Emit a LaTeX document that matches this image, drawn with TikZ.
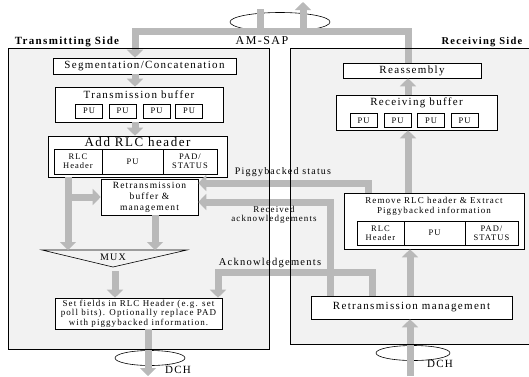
\documentclass[tikz,border=0pt]{standalone}
\usepackage{fontspec}
\setmainfont{Liberation Serif}[LetterSpace=12]
\usetikzlibrary{arrows.meta}
\tikzset{
    rlcbox/.style={draw, fill=white, line width=0.6pt, inner sep=0pt, align=center},
    pubox/.style={rlcbox, minimum width=27pt, minimum height=14pt, font=\fontsize{8.5}{9}\selectfont},
    cellbox/.style={rlcbox, minimum height=25pt, font=\fontsize{8.5}{9}\selectfont},
    bigarrow/.style={draw=gray!55, line width=7pt, -{Triangle[length=8pt,width=16pt]}},
    band/.style={draw=gray!55, line width=7pt},
    sidelabel/.style={font=\bfseries\fontsize{11}{12}\selectfont},
    midlabel/.style={font=\fontsize{10}{11}\selectfont, align=center}
}

\begin{document}
\begin{tikzpicture}[x=1pt, y=-1pt, font=\fontsize{11}{12}\selectfont]
    \useasboundingbox (0,0) rectangle (529,376);
    \fill[gray!10] (8,48) rectangle (269,349);
    \fill[gray!10] (290,48) rectangle (529,344);

    \node[rlcbox, minimum width=183pt, minimum height=16pt] (seg) at (144.5,66) {Segmentation/Concatenation};
    \node[rlcbox, minimum width=168pt, minimum height=35pt] (txbuf) at (139,104.5) {};
    \node (txtitle) at (139,95) {Transmission buffer};
    \foreach \x [count=\i] in {89,122.5,156.5,189}
        \node[pubox] (txpu\i) at (\x,111) {PU};
    \node[rlcbox, minimum width=179pt, minimum height=41pt] (addrlc) at (137.5,156.5) {};
    \node[font=\fontsize{13}{14}\selectfont] (addtitle) at (137.5,142.5) {Add RLC header};
    \node[cellbox, minimum width=48pt] (txhdr) at (78,161.5) {RLC\\Header};
    \node[cellbox, minimum width=61pt] (txpu) at (132.5,161.5) {PU};
    \node[cellbox, minimum width=54pt] (txpad) at (190,161.5) {PAD/\\STATUS};
    \node[rlcbox, minimum width=97pt, minimum height=36pt, font=\fontsize{9.5}{11}\selectfont] (rtx) at (149.5,197) {Retransmission\\buffer \&\\management};
    \node[rlcbox, minimum width=167pt, minimum height=31pt, font=\fontsize{9}{9.5}\selectfont] (setf) at (138.5,313.5) {Set fields in RLC Header (e.g. set\\poll bits). Optionally replace PAD\\with piggybacked information.};

    \node[rlcbox, minimum width=138pt, minimum height=15pt] (reass) at (412,70.5) {Reassembly};
    \node[rlcbox, minimum width=161pt, minimum height=35pt] (rxbuf) at (416.5,112.5) {};
    \node (rxtitle) at (416.5,103) {Receiving buffer};
    \foreach \x [count=\i] in {363.5,397.5,431,464.5}
        \node[pubox] (rxpu\i) at (\x,120.5) {PU};
    \node[rlcbox, minimum width=180pt, minimum height=56pt] (rmv) at (434,221) {};
    \node[font=\fontsize{9}{10}\selectfont, align=center] (rmvtitle) at (434,206.5) {Remove RLC header \& Extract\\Piggybacked information};
    \node[cellbox, minimum width=47pt, minimum height=24pt] (rxhdr) at (380.5,233) {RLC\\Header};
    \node[cellbox, minimum width=61pt, minimum height=24pt] (rxpu) at (434.5,233) {PU};
    \node[cellbox, minimum width=53pt, minimum height=24pt] (rxpad) at (491.5,233) {PAD/\\STATUS};
    \node[rlcbox, minimum width=201pt, minimum height=23pt] (rmgmt) at (411.5,307.5) {Retransmission management};

    \draw[line width=0.6pt] (42,250) -- (187,250) -- (113,267) -- cycle;
    \node[font=\fontsize{10}{11}\selectfont] (mux) at (113,257) {MUX};

    \coordinate (sapin) at (260,9);
    \coordinate (sapout) at (303,2);
    \coordinate (band) at (135,31);
    \coordinate (colr) at (408,31);
    \coordinate (muxa) at (68,250);
    \coordinate (muxb) at (155,250);
    \coordinate (muxo) at (115,271);
    \coordinate (dchtx) at (148,376);
    \coordinate (dchrx) at (410,376);
    \coordinate (pig) at (368,183);
    \coordinate (rack) at (330,202);
    \coordinate (ack) at (372,272);
    \coordinate (ackl) at (218,272);

    \draw[line width=0.6pt] (280,22) ellipse [x radius=50, y radius=9.5];
    \draw[line width=0.6pt] (150,358) ellipse [x radius=35, y radius=7.5];
    \draw[line width=0.6pt] (413,353) ellipse [x radius=37, y radius=7.5];

    \draw[bigarrow] (sapin) |- (band) -- (seg.north -| band);
    \draw[band] (sapin |- band) -- (sapout |- band);
    \draw[bigarrow] (reass.north -| colr) |- (sapout |- band) -- (sapout);
    \draw[bigarrow] (seg.south -| band) -- (txbuf.north -| band);
    \draw[bigarrow] (txbuf.south -| band) -- (addrlc.north -| band);
    \draw[bigarrow] (addrlc.south -| muxa) -- (muxa);
    \draw[bigarrow] (muxa |- rtx) -- (rtx.west);
    \draw[bigarrow] (rtx.south -| muxb) -- (muxb);
    \draw[bigarrow] (muxo) -- (setf.north -| muxo);
    \draw[bigarrow] (setf.south -| dchtx) -- (dchtx);
    \draw[bigarrow] (rmgmt.north -| ack) |- (ackl) -- (setf.north -| ackl);
    \draw[bigarrow] (rmgmt.north -| rack) |- (rtx.east |- rack);
    \draw[bigarrow] (rmv.north -| pig) |- (rtx.east |- pig);
    \draw[bigarrow] (dchrx) -- (rmgmt.south -| dchrx);
    \draw[bigarrow] (rmgmt.north -| dchrx) -- (rmv.south -| dchrx);
    \draw[bigarrow] (rmv.north -| colr) -- (rxbuf.south -| colr);
    \draw[bigarrow] (rxbuf.north -| colr) -- (reass.south -| colr);

    \draw[line width=0.6pt] (8,48) rectangle (269,349);
    \draw[line width=0.6pt] (529,48) -- (290,48) -- (290,344) -- (529,344);

    \node[sidelabel] (txside) at (67,42) {Transmitting Side};
    \node[sidelabel, font=\bfseries\fontsize{10.5}{12}\selectfont] (rxside) at (482,42) {Receiving Side};
    \node[font=\fontsize{12}{13}\selectfont] (amsap) at (262,41) {AM-SAP};
    \node (dchtxl) at (178,370) {DCH};
    \node (dchrxl) at (440,364) {DCH};
    \node[midlabel] (pigl) at (283,172) {Piggybacked status};
    \node[midlabel, font=\fontsize{9}{9.5}\selectfont] (rackl) at (274,215) {Received\\acknowledgements};
    \node[midlabel, font=\fontsize{10.5}{11}\selectfont] (ackt) at (270,263) {Acknowledgements};
\end{tikzpicture}
\end{document}
